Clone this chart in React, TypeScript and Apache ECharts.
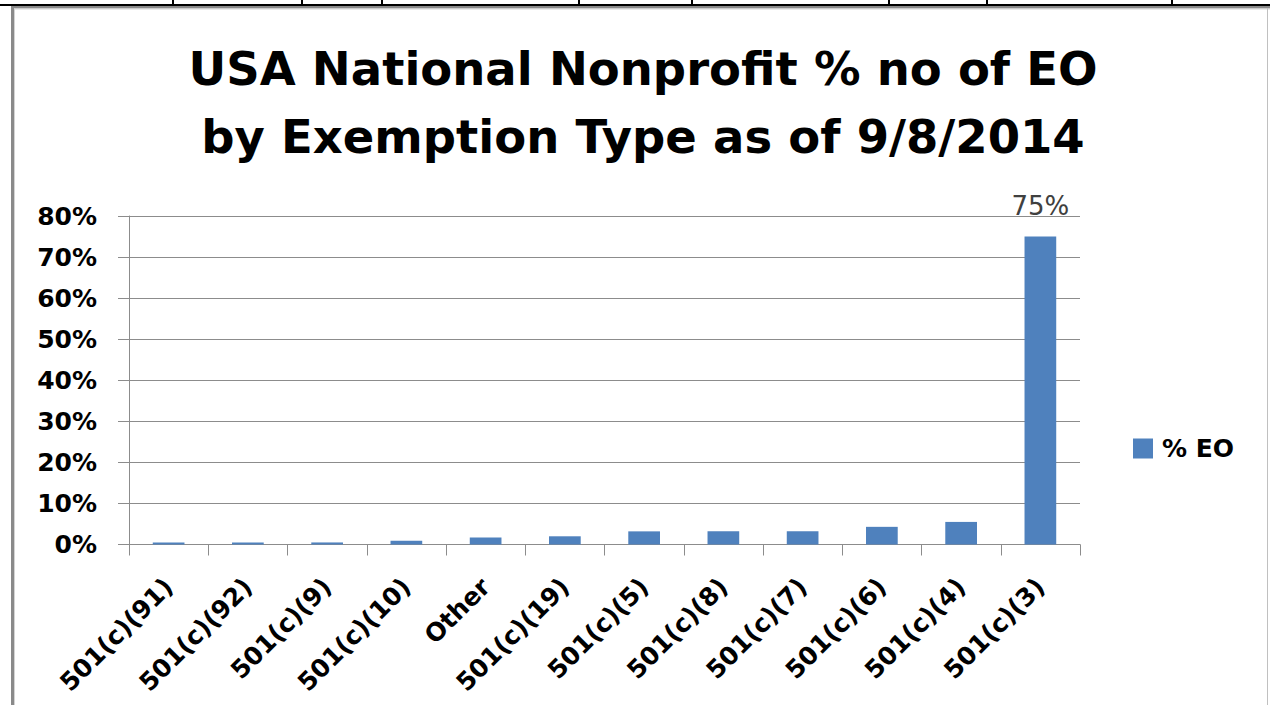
import React, { useEffect, useRef } from "react";
import * as echarts from "echarts";

const categories = [
  "501(c)(91)",
  "501(c)(92)",
  "501(c)(9)",
  "501(c)(10)",
  "Other",
  "501(c)(19)",
  "501(c)(5)",
  "501(c)(8)",
  "501(c)(7)",
  "501(c)(6)",
  "501(c)(4)",
  "501(c)(3)",
];
const percentEO = [0.5, 0.5, 0.5, 0.9, 1.7, 2.0, 3.2, 3.2, 3.2, 4.3, 5.5, 75];
const seriesName = "% EO";
const titleLines = ["USA National Nonprofit % no of EO", "by Exemption Type as of 9/8/2014"];
const topTableColumns = [173, 302, 382, 579, 692, 889, 987, 1172];

const BOLD = "DejaVu Sans";

export default function App() {
  const ref = useRef<HTMLDivElement>(null);
  useEffect(() => {
    if (!ref.current) return;
    const chart = echarts.init(ref.current, undefined, { renderer: "svg" });
    const graphics: any[] = [
      // spreadsheet row line at top
      { type: "rect", shape: { x: 0, y: 4, width: 1270, height: 2 }, style: { fill: "#000" }, silent: true },
      ...topTableColumns.map((x) => ({
        type: "rect",
        shape: { x: x - 1, y: 0, width: 2, height: 5 },
        style: { fill: "#000" },
        silent: true,
      })),
      // chart frame
      { type: "rect", shape: { x: 11, y: 6, width: 1259, height: 2.5 }, style: { fill: "#8a8a8a" }, silent: true },
      { type: "rect", shape: { x: 11, y: 6, width: 3, height: 699 }, style: { fill: "#8a8a8a" }, silent: true },
      { type: "rect", shape: { x: 14, y: 8.5, width: 1256, height: 1 }, style: { fill: "#d4d4d4" }, silent: true },
      { type: "rect", shape: { x: 14, y: 8.5, width: 1, height: 697 }, style: { fill: "#d4d4d4" }, silent: true },
      { type: "rect", shape: { x: 1267, y: 8, width: 1, height: 697 }, style: { fill: "#c0c0c0" }, silent: true },
      // title
      ...titleLines.map((t, i) => ({
        type: "text",
        x: 643,
        y: 92 + i * 68,
        style: {
          text: t,
          fontFamily: BOLD,
          fontWeight: "bold",
          fontSize: 46.5,
          fill: "#000",
          textAlign: "center",
          textVerticalAlign: "bottom",
          verticalAlign: "alphabetic",
        },
        silent: true,
      })),
    ];
    chart.setOption({
      animation: false,
      backgroundColor: "#fff",
      graphic: graphics,
      legend: {
        show: true,
        left: 1133,
        top: 436,
        padding: 0,
        icon: "rect",
        itemWidth: 20,
        itemHeight: 20,
        data: [seriesName],
        textStyle: {
          fontFamily: BOLD,
          fontWeight: "bold",
          fontSize: 25,
          color: "#000",
          padding: [0, 0, 0, 4],
        },
      },
      grid: { left: 129, right: 190, top: 216, bottom: 160.5, containLabel: false },
      xAxis: {
        type: "category",
        data: categories,
        boundaryGap: true,
        axisLine: { show: true, lineStyle: { color: "#8c8c8c", width: 1 } },
        axisTick: { show: true, length: 11, lineStyle: { color: "#8c8c8c" } },
        axisLabel: {
          interval: 0,
          rotate: 45,
          margin: 38,
          fontFamily: BOLD,
          fontWeight: "bold",
          fontSize: 25,
          color: "#000",
        },
      },
      yAxis: {
        type: "value",
        min: 0,
        max: 80,
        interval: 10,
        axisLine: { show: true, lineStyle: { color: "#8c8c8c", width: 1 } },
        axisTick: { show: true, length: 11, lineStyle: { color: "#8c8c8c" } },
        splitLine: { show: true, lineStyle: { color: "#8c8c8c", width: 1 } },
        axisLabel: {
          formatter: "{value}%",
          margin: 32,
          fontFamily: BOLD,
          fontWeight: "bold",
          fontSize: 25,
          color: "#000",
        },
      },
      series: [
        {
          name: seriesName,
          type: "bar",
          barWidth: "40%",
          itemStyle: { color: "#4F81BD" },
          data: percentEO.map((v, i) =>
            i === percentEO.length - 1
              ? {
                  value: v,
                  label: {
                    show: true,
                    position: "top",
                    distance: 18,
                    formatter: "{c}%",
                    fontFamily: "DejaVu Sans",
                    fontSize: 26,
                    color: "#404040",
                  },
                }
              : v
          ),
        },
      ],
    });
    return () => chart.dispose();
  }, []);
  return (
    <div
      ref={ref}
      style={{ position: "fixed", left: 0, top: 0, width: 1270, height: 705, background: "#fff" }}
    />
  );
}
